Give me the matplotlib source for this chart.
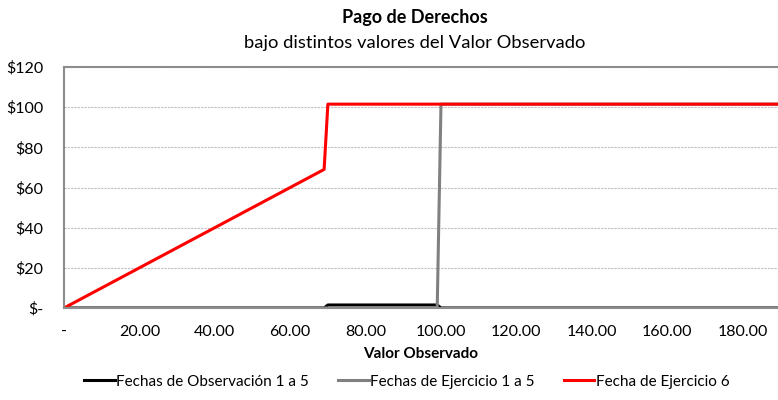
import matplotlib
matplotlib.use("Agg")
import matplotlib.pyplot as plt
from matplotlib.ticker import FuncFormatter

plt.rcParams.update({
    "font.family": ["Lato", "DejaVu Sans"],
    "font.size": 10})

# Break points of each payoff curve (Valor Observado -> Pago)
obs_x = [0, 69, 70, 99, 100, 190]
obs_y = [0, 0, 1.5, 1.5, 0, 0]

ejer15_x = [0, 99, 100, 190]
ejer15_y = [0, 0, 101.5, 101.5]

ejer6_x = [0, 69, 70, 190]
ejer6_y = [0, 69, 101.5, 101.5]

labels = ["Fechas de Observación 1 a 5", "Fechas de Ejercicio 1 a 5", "Fecha de Ejercicio 6"]
colors = ["black", "#808080", "#ff0000"]

x_ticks = list(range(0, 181, 20))
y_ticks = list(range(0, 121, 20))

fig = plt.figure(figsize=(7.78, 4.0), dpi=100)
ax = fig.add_axes([64/778, 1-308/400, 1-64/778, (308-67)/400])

ax.plot(obs_x, obs_y, color=colors[0], lw=2.2, label=labels[0])
ax.plot(ejer15_x, ejer15_y, color=colors[1], lw=2.2, label=labels[1])
ax.plot(ejer6_x, ejer6_y, color=colors[2], lw=2.2, label=labels[2])

ax.set_xlim(0, 189.4)
ax.set_ylim(0, 120)
ax.set_xticks(x_ticks)
ax.set_yticks(y_ticks)
ax.xaxis.set_major_formatter(FuncFormatter(lambda v, p: "-" if v == 0 else f"{v:.2f}"))
ax.yaxis.set_major_formatter(FuncFormatter(lambda v, p: "$-" if v == 0 else f"${v:.0f}"))
ax.tick_params(axis="both", length=0, labelsize=11.5)
ax.tick_params(axis="x", pad=12)
ax.tick_params(axis="y", pad=15)

ax.grid(axis="y", color="#bfbfbf", linestyle=(0, (2, 1)), lw=0.8)
ax.set_axisbelow(True)
for s in ["left", "top", "bottom"]:
    ax.spines[s].set_color("#8c8c8c")
    ax.spines[s].set_linewidth(1.5)
ax.spines["right"].set_visible(False)

ax.set_xlabel("Valor Observado", fontweight="bold", fontsize=11, labelpad=6)

fig.text(0.533, 0.955, "Pago de Derechos", ha="center", va="center", fontsize=13, fontweight="bold")
fig.text(0.533, 0.892, "bajo distintos valores del Valor Observado", ha="center", va="center", fontsize=13.2)

fig.legend(loc="center", bbox_to_anchor=(0.523, 0.046), ncol=3, frameon=False,
           handlelength=2.0, handletextpad=0.1, columnspacing=1.9, fontsize=11)

fig.savefig("out.png", dpi=100)
